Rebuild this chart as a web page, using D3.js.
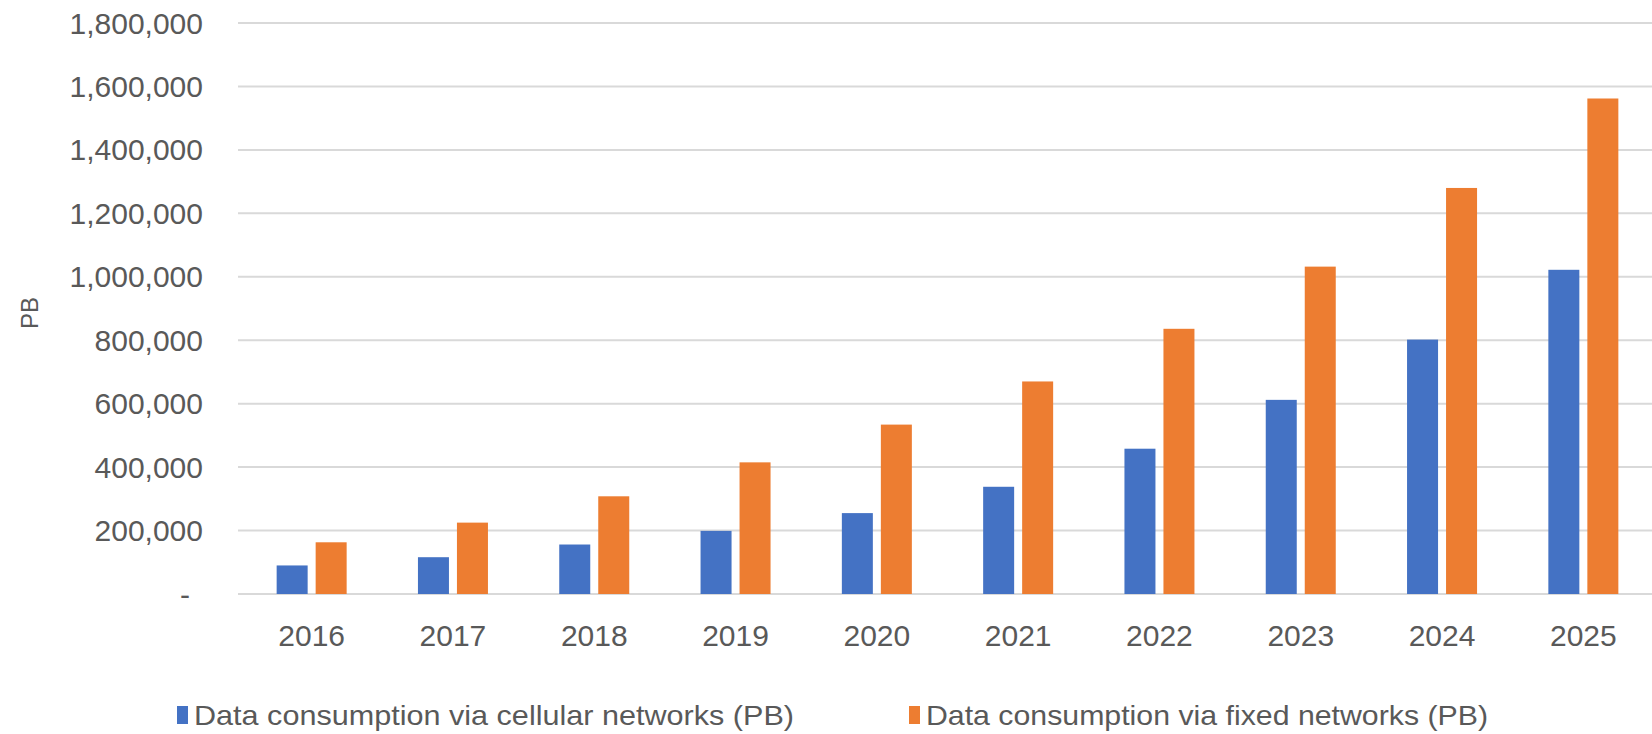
<!DOCTYPE html>
<html>
<head>
<meta charset="utf-8">
<script src="https://d3js.org/d3.v7.min.js"></script>
<style>
	body { margin: 0; background: #fff; }
	text { font-family: "Liberation Sans", Arial, sans-serif; fill: #595959; }
</style>
</head>
<body>
<div id="chart"></div>
<script>
/* data consumption, cellular vs fixed (PB) */
var years = ["2016","2017","2018","2019","2020","2021","2022","2023","2024","2025"];
var cellular = [90000, 116000, 156000, 199000, 255000, 338000, 458000, 612000, 802000, 1022000];
var fixedNet = [163000, 225000, 308000, 415000, 534000, 670000, 836000, 1032000, 1280000, 1562000];
var seriesNames = ["Data consumption via cellular networks (PB)", "Data consumption via fixed networks (PB)"];
var yTicks = [0, 200000, 400000, 600000, 800000, 1000000, 1200000, 1400000, 1600000, 1800000];

var width = 1652, height = 734;
var colors = ["#4472C4", "#ED7D31"];

var svg = d3.select("#chart")
	.append("svg")
	.attr("width", width)
	.attr("height", height);

var x = d3.scaleBand().domain(years).range([241, 1654]);
var y = d3.scaleLinear().domain([0, 1800000]).range([594, 23]);

/*gridlines*/
svg.append("g")
	.selectAll("line")
	.data(yTicks)
	.enter()
	.append("line")
	.attr("x1", 238)
	.attr("x2", 1652)
	.attr("y1", function(d){ return y(d); })
	.attr("y2", function(d){ return y(d); })
	.style("stroke", "#d9d9d9")
	.style("stroke-width", 2);

/*y axis labels*/
var fmt = d3.format(",");
svg.append("g")
	.selectAll("text")
	.data(yTicks)
	.enter()
	.append("text")
	.attr("x", function(d){ return d === 0 ? 190 : 203; })
	.attr("y", function(d){ return y(d); })
	.attr("dy", "0.35em")
	.style("text-anchor", "end")
	.style("font-size", "30px")
	.text(function(d){ return d === 0 ? "-" : fmt(d); });

svg.append("text")
	.attr("transform", "translate(38,313) rotate(-90)")
	.style("text-anchor", "middle")
	.style("font-size", "24px")
	.text("PB");

/*bars*/
var barW = 31, gap = 4;
var groups = svg.append("g");
groups.selectAll(".cell")
	.data(years)
	.enter()
	.append("rect")
	.attr("class", "cell")
	.attr("x", function(d){ return x(d) + x.bandwidth()/2 - gap - barW; })
	.attr("y", function(d, i){ return y(cellular[i]); })
	.attr("width", barW)
	.attr("height", function(d, i){ return y(0) - y(cellular[i]); })
	.style("fill", colors[0]);

groups.selectAll(".fix")
	.data(years)
	.enter()
	.append("rect")
	.attr("class", "fix")
	.attr("x", function(d){ return x(d) + x.bandwidth()/2 + gap; })
	.attr("y", function(d, i){ return y(fixedNet[i]); })
	.attr("width", barW)
	.attr("height", function(d, i){ return y(0) - y(fixedNet[i]); })
	.style("fill", colors[1]);

/*x axis labels*/
svg.append("g")
	.selectAll("text")
	.data(years)
	.enter()
	.append("text")
	.attr("x", function(d){ return x(d) + x.bandwidth()/2; })
	.attr("y", 635)
	.attr("dy", "0.35em")
	.style("text-anchor", "middle")
	.style("font-size", "30px")
	.text(function(d){ return d; });

/*legend*/
var legX = [177, 909];
var legLen = [600, 562];
var leg = svg.append("g")
	.selectAll("g")
	.data(seriesNames)
	.enter()
	.append("g")
	.attr("transform", function(d, i){ return "translate(" + legX[i] + ",715)"; });

leg.append("rect")
	.attr("x", 0)
	.attr("y", -9)
	.attr("width", 11)
	.attr("height", 18)
	.style("fill", function(d, i){ return colors[i]; });

leg.append("text")
	.attr("x", 17)
	.attr("y", 0)
	.attr("dy", "0.35em")
	.attr("textLength", function(d, i){ return legLen[i]; })
	.attr("lengthAdjust", "spacingAndGlyphs")
	.style("font-size", "28px")
	.text(function(d){ return d; });
</script>
</body>
</html>
